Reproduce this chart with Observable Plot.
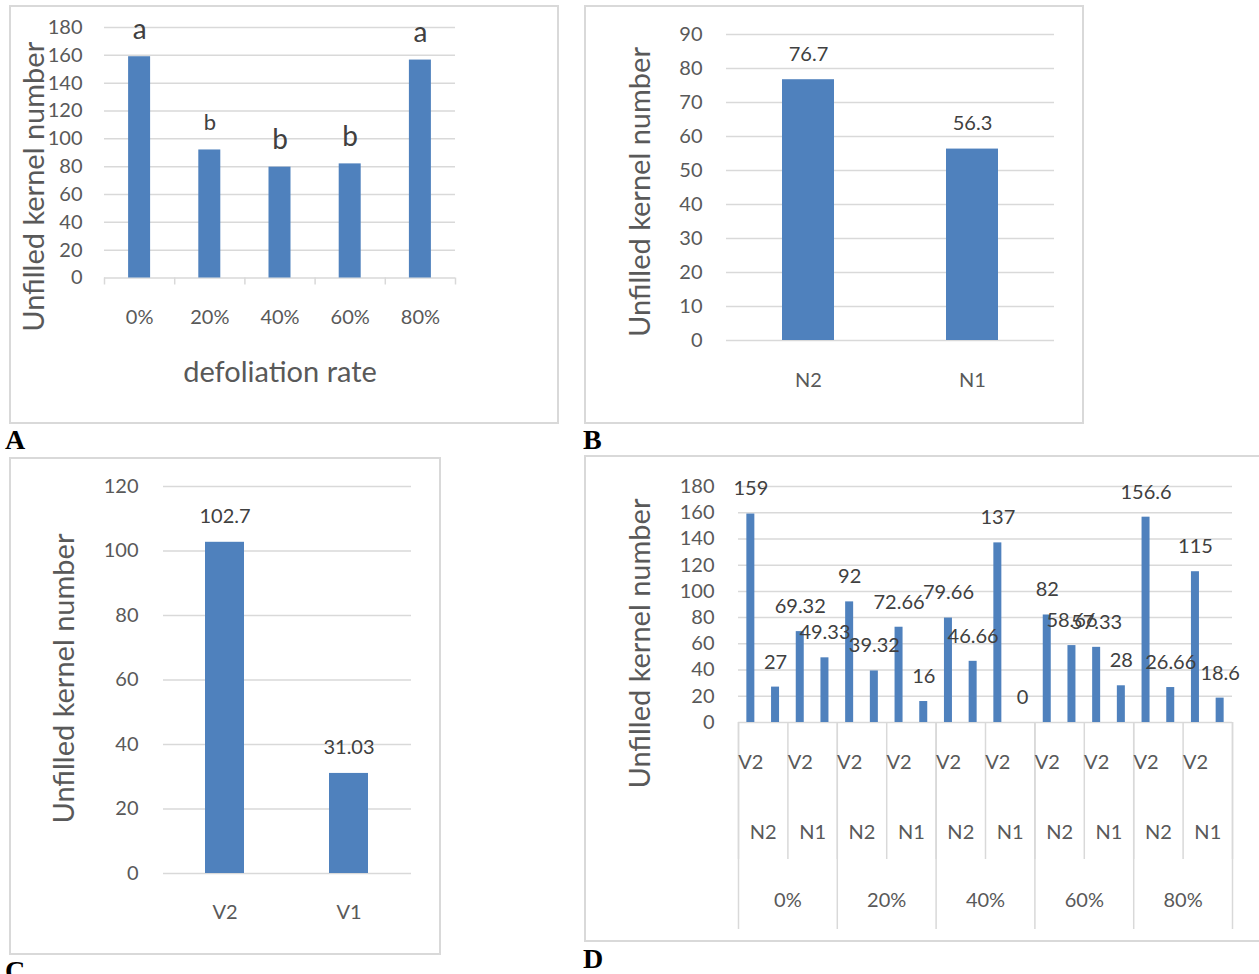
<!DOCTYPE html>
<html>
<head>
<meta charset="utf-8">
<script src="https://cdn.jsdelivr.net/npm/d3@7"></script>
<script src="https://cdn.jsdelivr.net/npm/@observablehq/plot@0.6"></script>
<style>
  html, body { margin: 0; padding: 0; background: #fff; }
  body { position: relative; width: 1259px; height: 974px; overflow: hidden; font-family: Lato, "Open Sans", sans-serif; }
  .panel { position: absolute; }
  .panel svg { position: absolute; left: 0; top: 0; overflow: visible; }
  .frame { position: absolute; left: 0; top: 0; right: 0; bottom: 0; border: 2px solid #d9d9d9; box-sizing: border-box; pointer-events: none; }
  .tag { position: absolute; font-family: "Liberation Serif", "Times New Roman", serif; font-weight: bold; font-size: 28px; line-height: 1; color: #000; }
</style>
</head>
<body>
<div id="panelA" class="panel" style="left:9px; top:5px; width:550px; height:419px"><div class="frame"></div></div>
<div id="panelB" class="panel" style="left:584px; top:5px; width:500px; height:419px"><div class="frame"></div></div>
<div id="panelC" class="panel" style="left:9px; top:457px; width:432px; height:498px"><div class="frame"></div></div>
<div id="panelD" class="panel" style="left:584px; top:455px; width:680px; height:487px"><div class="frame"></div></div>
<div class="tag" style="left:5px; top:426px">A</div>
<div class="tag" style="left:583px; top:426px">B</div>
<div class="tag" style="left:5px; top:957px">C</div>
<div class="tag" style="left:583px; top:945px">D</div>
<script>
// ---- data ----
const defoliationRates = ["0%", "20%", "40%", "60%", "80%"];
const unfilledByRate = [159, 92, 79.66, 82, 156.6];
const rateLetters = ["a", "b", "b", "b", "a"];

const nitrogenLevels = ["N2", "N1"];
const unfilledByNitrogen = [76.7, 56.3];

const varieties = ["V2", "V1"];
const unfilledByVariety = [102.7, 31.03];

// rate x nitrogen x variety
const unfilledN2V2 = [159, 92, 79.66, 82, 156.6];
const unfilledN2V1 = [27, 39.32, 46.66, 58.66, 26.66];
const unfilledN1V2 = [69.32, 72.66, 137, 57.33, 115];
const unfilledN1V1 = [49.33, 16, 0, 28, 18.6];

const ticksA = [0, 20, 40, 60, 80, 100, 120, 140, 160, 180];
const ticksB = [0, 10, 20, 30, 40, 50, 60, 70, 80, 90];
const ticksC = [0, 20, 40, 60, 80, 100, 120];
const ticksD = [0, 20, 40, 60, 80, 100, 120, 140, 160, 180];

const yTitle = "Unfilled kernel number";
const xTitleA = "defoliation rate";

// ---- styling ----
const BLUE = "#4f81bd";
const GRID = "#d9d9d9";
const INK = "#595959";
const LABEL = "#404040";
const FONT = "Lato, 'Open Sans', sans-serif";
const baseStyle = {fontFamily: FONT, fontSize: "20px", color: INK, background: "transparent", overflow: "visible"};
const fmt = v => String(v);

function yTitleMark(dx, dy) {
  return Plot.text([yTitle], {frameAnchor: "left", textAnchor: "middle", lineAnchor: "middle",
    rotate: -90, dx, dy, fontSize: 29, fill: INK});
}

// ---- A: by defoliation rate ----
const rowsA = defoliationRates.map((rate, i) => ({i, rate, value: unfilledByRate[i], letter: rateLetters[i]}));
const chartA = Plot.plot({
  width: 550, height: 419,
  marginLeft: 95, marginRight: 104, marginTop: 22, marginBottom: 146.5,
  style: baseStyle,
  x: {type: "linear", domain: [0, rowsA.length], axis: null, label: null},
  y: {domain: [0, 180], axis: null, label: null},
  marks: [
    Plot.gridY({ticks: ticksA, stroke: GRID, strokeOpacity: 1, strokeWidth: 1.5}),
    Plot.axisY({ticks: ticksA, tickSize: 0, tickPadding: 22, label: null, fill: INK}),
    Plot.axisX({ticks: d3.range(0, rowsA.length + 1), tickSize: 7, tickFormat: () => "", label: null, stroke: GRID, strokeWidth: 1.5}),
    Plot.rectY(rowsA, {x1: "i", x2: d => d.i + 1, y1: 0, y2: "value", fill: BLUE, insetLeft: 24.1, insetRight: 24.1}),
    Plot.text(rowsA, {x: d => d.i + 0.5, y: "value", text: "letter", dy: -27, fill: LABEL,
      fontSize: (d, i) => (i === 1 ? 22 : 28)}),
    Plot.text(rowsA, {x: d => d.i + 0.5, text: "rate", frameAnchor: "bottom", textAnchor: "middle", lineAnchor: "middle", dy: 40, fill: INK}),
    Plot.text([xTitleA], {frameAnchor: "bottom", textAnchor: "middle", lineAnchor: "middle", dy: 94.5, fontSize: 29, fill: INK}),
    yTitleMark(-70, 34)
  ]
});
document.getElementById("panelA").prepend(chartA);

// ---- B: by nitrogen ----
const rowsB = nitrogenLevels.map((level, i) => ({level, value: unfilledByNitrogen[i]}));
const chartB = Plot.plot({
  width: 500, height: 419,
  marginLeft: 142, marginRight: 30, marginTop: 29, marginBottom: 84,
  style: baseStyle,
  x: {type: "band", domain: nitrogenLevels, paddingInner: 0.683, paddingOuter: 0.3415, axis: null, label: null},
  y: {domain: [0, 90], axis: null, label: null},
  marks: [
    Plot.gridY({ticks: ticksB, stroke: GRID, strokeOpacity: 1, strokeWidth: 1.5}),
    Plot.axisY({ticks: ticksB, tickSize: 0, tickPadding: 24, label: null, fill: INK}),
    Plot.barY(rowsB, {x: "level", y: "value", fill: BLUE}),
    Plot.text(rowsB, {x: "level", y: "value", text: d => fmt(d.value), dy: -25, fill: LABEL}),
    Plot.text(rowsB, {x: "level", text: "level", frameAnchor: "bottom", textAnchor: "middle", lineAnchor: "middle", dy: 40, fill: INK}),
    yTitleMark(-86, 4.5)
  ]
});
document.getElementById("panelB").prepend(chartB);

// ---- C: by variety ----
const rowsC = varieties.map((variety, i) => ({variety, value: unfilledByVariety[i]}));
const chartC = Plot.plot({
  width: 432, height: 498,
  marginLeft: 154, marginRight: 30, marginTop: 29, marginBottom: 82,
  style: baseStyle,
  x: {type: "band", domain: varieties, paddingInner: 0.685, paddingOuter: 0.3425, axis: null, label: null},
  y: {domain: [0, 120], axis: null, label: null},
  marks: [
    Plot.gridY({ticks: ticksC, stroke: GRID, strokeOpacity: 1, strokeWidth: 1.5}),
    Plot.axisY({ticks: ticksC, tickSize: 0, tickPadding: 25, label: null, fill: INK}),
    Plot.barY(rowsC, {x: "variety", y: "value", fill: BLUE}),
    Plot.text(rowsC, {x: "variety", y: "value", text: d => fmt(d.value), dy: -26, fill: LABEL}),
    Plot.text(rowsC, {x: "variety", text: "variety", frameAnchor: "bottom", textAnchor: "middle", lineAnchor: "middle", dy: 39, fill: INK}),
    yTitleMark(-99, -1.5)
  ]
});
document.getElementById("panelC").prepend(chartC);

// ---- D: rate x nitrogen x variety ----
const seriesD = {N2: {V2: unfilledN2V2, V1: unfilledN2V1}, N1: {V2: unfilledN1V2, V1: unfilledN1V1}};
const rowsD = [];
defoliationRates.forEach((rate, k) => {
  nitrogenLevels.forEach(n => {
    varieties.forEach(v => {
      rowsD.push({i: rowsD.length, rate, nitrogen: n, variety: v, value: seriesD[n][v][k]});
    });
  });
});
const firstOfPair = rowsD.filter(d => d.variety === varieties[0]);
const firstOfRate = rowsD.filter(d => d.variety === varieties[0] && d.nitrogen === nitrogenLevels[0]);
const chartD = Plot.plot({
  width: 680, height: 487,
  marginLeft: 154, marginRight: 32, marginTop: 31, marginBottom: 220,
  style: baseStyle,
  x: {type: "linear", domain: [0, rowsD.length], axis: null, label: null},
  y: {domain: [0, 180], axis: null, label: null},
  marks: [
    Plot.gridY({ticks: ticksD, stroke: GRID, strokeOpacity: 1, strokeWidth: 1.5}),
    Plot.axisY({ticks: ticksD, tickSize: 0, tickPadding: 24, label: null, fill: INK}),
    Plot.axisX({ticks: d3.range(0, rowsD.length + 1, 2), tickSize: 137, tickFormat: () => "", label: null, stroke: GRID, strokeWidth: 1.5}),
    Plot.axisX({ticks: d3.range(0, rowsD.length + 1, 4), tickSize: 207, tickFormat: () => "", label: null, stroke: GRID, strokeWidth: 1.5}),
    Plot.rectY(rowsD, {x1: "i", x2: d => d.i + 1, y1: 0, y2: "value", fill: BLUE, insetLeft: 8.35, insetRight: 8.35}),
    Plot.text(rowsD, {x: d => d.i + 0.5, y: "value", text: d => fmt(d.value), dy: -25, fill: LABEL}),
    Plot.text(firstOfPair, {x: d => d.i + 0.5, text: "variety", frameAnchor: "bottom", textAnchor: "middle", lineAnchor: "middle", dy: 40, fill: INK}),
    Plot.text(firstOfPair, {x: d => d.i + 1, text: "nitrogen", frameAnchor: "bottom", textAnchor: "middle", lineAnchor: "middle", dy: 110, fill: INK}),
    Plot.text(firstOfRate, {x: d => d.i + 2, text: "rate", frameAnchor: "bottom", textAnchor: "middle", lineAnchor: "middle", dy: 178, fill: INK}),
    yTitleMark(-98, 39)
  ]
});
document.getElementById("panelD").prepend(chartD);
</script>
</body>
</html>
